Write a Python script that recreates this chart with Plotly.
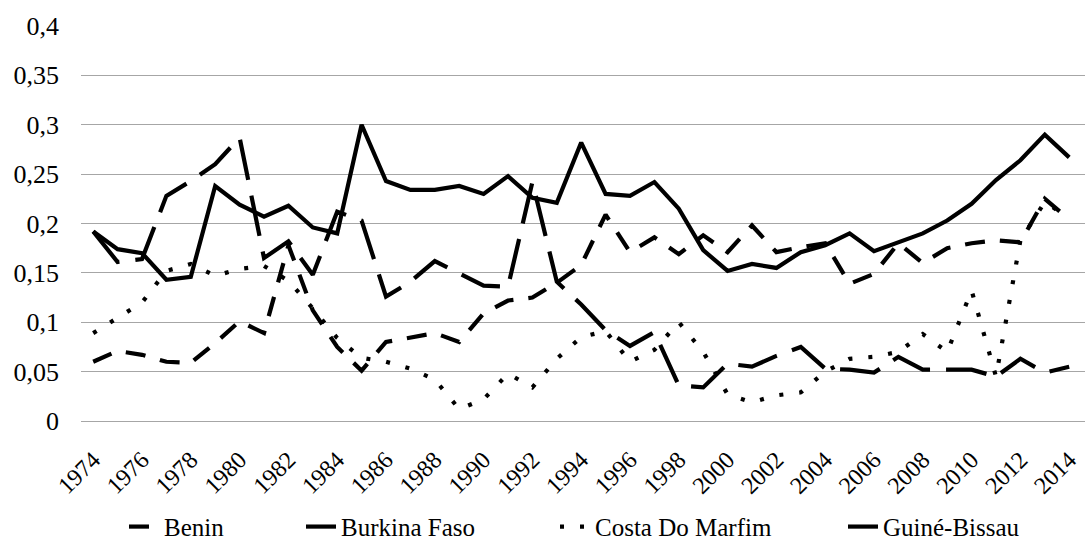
import plotly.graph_objects as go

years = list(range(1974, 2015))

benin = [0.060, 0.071, 0.067, 0.060, 0.059, 0.079, 0.101, 0.089, 0.178, 0.112,
         0.075, 0.051, 0.080, 0.084, 0.089, 0.080, 0.109, 0.122, 0.125, 0.140,
         0.158, 0.209, 0.171, 0.186, 0.169, 0.188, 0.171, 0.198, 0.171, 0.176,
         0.180, 0.139, 0.149, 0.180, 0.160, 0.175, 0.180, 0.183, 0.181, 0.225,
         0.204]

burkina_faso = [0.192, 0.174, 0.170, 0.143, 0.146, 0.238, 0.219, 0.207, 0.218, 0.196,
                0.190, 0.300, 0.243, 0.234, 0.234, 0.238, 0.230, 0.248, 0.226, 0.221,
                0.282, 0.230, 0.228, 0.242, 0.215, 0.173, 0.152, 0.159, 0.155, 0.171,
                0.178, 0.190, 0.172, 0.181, 0.190, 0.203, 0.220, 0.244, 0.264, 0.290,
                0.267]

costa_do_marfim = [0.089, 0.105, 0.120, 0.152, 0.159, 0.147, 0.154, 0.157, 0.142, 0.114,
                   0.084, 0.064, 0.060, 0.053, 0.042, 0.012, 0.022, 0.048, 0.034, 0.063,
                   0.085, 0.091, 0.060, 0.072, 0.100, 0.070, 0.027, 0.019, 0.026, 0.029,
                   0.050, 0.063, 0.065, 0.070, 0.088, 0.070, 0.132, 0.045, 0.183, 0.222,
                   0.205]

guine_bissau = [0.192, 0.161, 0.164, 0.228, 0.243, 0.260, 0.287, 0.165, 0.182, 0.148,
                0.212, 0.203, 0.126, 0.141, 0.162, 0.149, 0.137, 0.136, 0.242, 0.141,
                0.118, 0.092, 0.076, 0.090, 0.036, 0.034, 0.058, 0.055, 0.066, 0.075,
                0.053, 0.052, 0.049, 0.065, 0.052, 0.052, 0.052, 0.045, 0.063, 0.049,
                0.055]

x_tick_years = list(range(1974, 2015, 2))
x_tick_labels = [str(y) for y in x_tick_years]
y_tick_values = [0, 0.05, 0.1, 0.15, 0.2, 0.25, 0.3, 0.35, 0.4]
y_tick_labels = ["0", "0,05", "0,1", "0,15", "0,2", "0,25", "0,3", "0,35", "0,4"]

FONT = "Liberation Serif, Times New Roman, serif"
LW = 4.2

series = [
    ("Benin", benin, "20px,15px", "legend"),
    ("Burkina Faso", burkina_faso, "solid", "legend2"),
    ("Costa Do Marfim", costa_do_marfim, "4px,16px", "legend3"),
    ("Guiné-Bissau", guine_bissau, "41px,16px", "legend4"),
]

fig = go.Figure()
for name, vals, dash, lg in series:
    fig.add_trace(go.Scatter(
        x=years, y=vals, name=name, mode="lines",
        line=dict(color="black", width=LW, dash=dash),
        legend=lg,
    ))

leg_common = dict(orientation="h", xref="container", yref="container",
                  xanchor="left", yanchor="middle", y=0.028,
                  font=dict(family=FONT, size=25, color="black"),
                  bgcolor="rgba(0,0,0,0)")

fig.update_layout(
    width=1085, height=542,
    margin=dict(l=81, r=0, t=26, b=121, autoexpand=False),
    paper_bgcolor="white", plot_bgcolor="white",
    font=dict(family=FONT, size=25, color="black"),
    showlegend=True,
    legend=dict(x=124 / 1085, **leg_common),
    legend2=dict(x=301 / 1085, **leg_common),
    legend3=dict(x=555 / 1085, **leg_common),
    legend4=dict(x=843 / 1085, **leg_common),
    xaxis=dict(
        range=[1973.5, 1973.5 + 1004 / 24.4],
        tickmode="array", tickvals=x_tick_years, ticktext=x_tick_labels,
        tickangle=-45, showgrid=False, zeroline=False,
        showline=True, linecolor="#a6a6a6", linewidth=1.3,
        ticks="", ticklabelstandoff=14, ticklabeloverflow="allow",
        tickfont=dict(family=FONT, size=24, color="black"),
    ),
    yaxis=dict(
        range=[0, 0.4],
        tickmode="array", tickvals=y_tick_values, ticktext=y_tick_labels,
        showgrid=True, gridcolor="#a6a6a6", gridwidth=1.3,
        zeroline=False, showline=False, ticks="",
        ticklabelstandoff=21,
        tickfont=dict(family=FONT, size=26, color="black"),
    ),
)

fig.write_html("out.html",
               config={"displayModeBar": False},
               post_script="document.body.style.margin='0';document.body.style.padding='0';")
